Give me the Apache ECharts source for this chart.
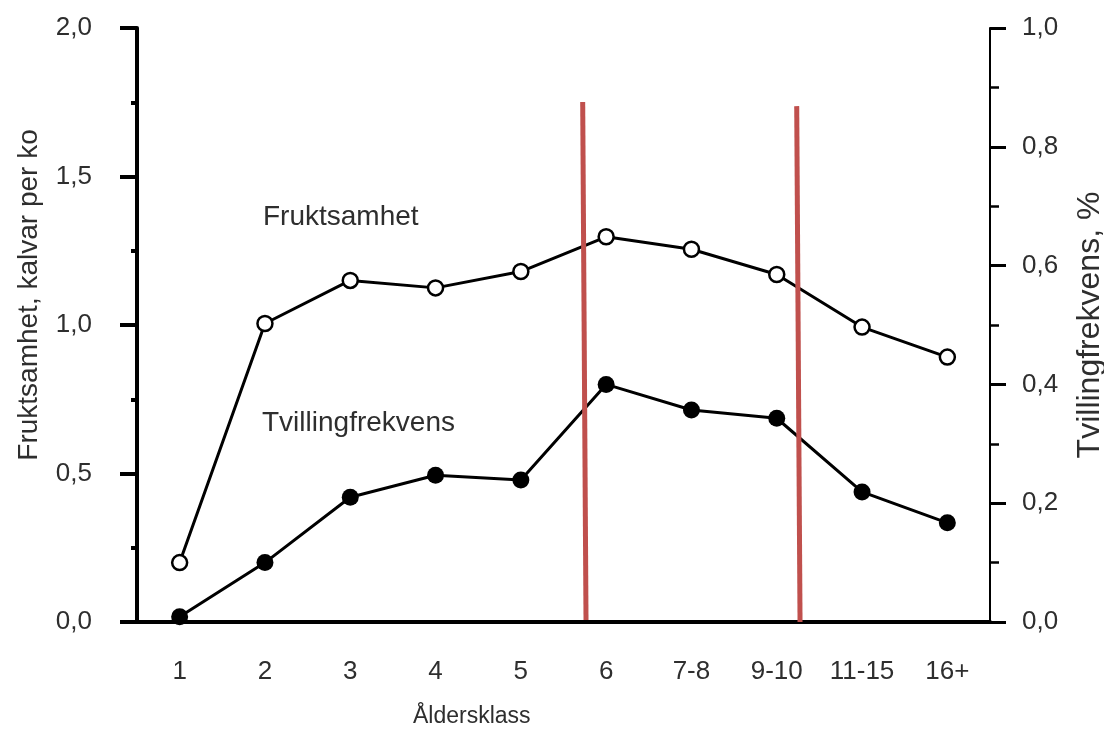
<!DOCTYPE html>
<html>
<head>
<meta charset="utf-8">
<script src="https://cdn.jsdelivr.net/npm/echarts@6/dist/echarts.min.js"></script>
<style>html,body{margin:0;padding:0;background:#fff;}#c{width:1104px;height:733px;}</style>
</head>
<body>
<div id="c"></div>
<script>
var categories = ['1','2','3','4','5','6','7-8','9-10','11-15','16+'];
var fruktsamhet = [0.20, 1.005, 1.15, 1.125, 1.18, 1.297, 1.255, 1.17, 0.993, 0.892];
var tvilling = [0.009, 0.10, 0.21, 0.247, 0.239, 0.40, 0.357, 0.343, 0.219, 0.167];
var leftTicks = ['0,0','0,5','1,0','1,5','2,0'];
var rightTicks = ['0,0','0,2','0,4','0,6','0,8','1,0'];
// red marker lines, in category-position units (0..10) and left-axis units
var redLine1X = [5.225, 5.264];
var redLine1Y = [1.751, 0.007];
var redLine2X = [7.734, 7.773];
var redLine2Y = [1.737, 0.0];

var FONT = 'Liberation Sans, Arial, sans-serif';
var TXT = '#2e2e2e';
var chart = echarts.init(document.getElementById('c'));

chart.setOption({
  animation: false,
  backgroundColor: '#fff',
  grid: { left: 137, right: 114, top: 28, bottom: 111, containLabel: false, outerBoundsMode: 'none' },
  xAxis: [{
    type: 'category',
    data: categories,
    boundaryGap: true,
    axisLine: { lineStyle: { color: '#000', width: 4 } },
    axisTick: { alignWithLabel: true, length: 18, lineStyle: { color: '#000', width: 4 } },
    axisLabel: { color: TXT, fontSize: 26, fontFamily: FONT, margin: 37, interval: 0 },
    splitLine: { show: false }
  }, {
    type: 'value', min: 0, max: 10, show: false
  }],
  yAxis: [{
    type: 'value', min: 0, max: 2, interval: 0.5, position: 'left',
    name: 'Fruktsamhet, kalvar per ko',
    nameLocation: 'middle', nameGap: 94, nameRotate: 90,
    nameTextStyle: { color: TXT, fontSize: 28, fontFamily: FONT, padding: [0, 0, 0, 60] },
    axisLine: { show: true, lineStyle: { color: '#000', width: 4 } },
    axisTick: { show: true, length: 17, lineStyle: { color: '#000', width: 4 } },
    minorTick: { show: true, splitNumber: 2, length: 6, lineStyle: { color: '#000', width: 4 } },
    axisLabel: { color: TXT, fontSize: 26, fontFamily: FONT, margin: 45, formatter: function(v){ return leftTicks[Math.round(v/0.5)]; } },
    splitLine: { show: false }
  }, {
    type: 'value', min: 0, max: 1, interval: 0.2, position: 'right',
    name: 'Tvillingfrekvens, %',
    nameLocation: 'middle', nameGap: 84, nameRotate: 90,
    nameTextStyle: { color: TXT, fontSize: 32, fontFamily: FONT },
    axisLine: { show: true, lineStyle: { color: '#000', width: 2 } },
    axisTick: { show: true, length: 16, lineStyle: { color: '#000', width: 3 } },
    minorTick: { show: true, splitNumber: 2, length: 9, lineStyle: { color: '#000', width: 2.5 } },
    axisLabel: { color: TXT, fontSize: 26, fontFamily: FONT, margin: 32, formatter: function(v){ return rightTicks[Math.round(v/0.2)]; } },
    splitLine: { show: false }
  }],
  series: [{
    name: 'Fruktsamhet', type: 'line', xAxisIndex: 0, yAxisIndex: 0,
    data: fruktsamhet,
    symbol: 'circle', symbolSize: 15,
    lineStyle: { color: '#000', width: 3 },
    itemStyle: { color: '#fff', borderColor: '#000', borderWidth: 2.5 },
    z: 5
  }, {
    name: 'Tvillingfrekvens', type: 'line', xAxisIndex: 0, yAxisIndex: 1,
    data: tvilling,
    symbol: 'circle', symbolSize: 17,
    lineStyle: { color: '#000', width: 3 },
    itemStyle: { color: '#000', borderColor: '#000', borderWidth: 0 },
    z: 5
  }, {
    type: 'line', xAxisIndex: 1, yAxisIndex: 0,
    data: redLine1X.map(function(x, i){ return [x, redLine1Y[i]]; }),
    symbol: 'none', lineStyle: { color: '#c0504d', width: 5 }, z: 6, silent: true
  }, {
    type: 'line', xAxisIndex: 1, yAxisIndex: 0,
    data: redLine2X.map(function(x, i){ return [x, redLine2Y[i]]; }),
    symbol: 'none', lineStyle: { color: '#c0504d', width: 5 }, z: 6, silent: true
  }],
  graphic: [
    { type: 'text', left: 263, top: 203, style: { text: 'Fruktsamhet', fill: TXT, fontSize: 28, fontFamily: FONT } },
    { type: 'text', left: 262, top: 409, style: { text: 'Tvillingfrekvens', fill: TXT, fontSize: 28, fontFamily: FONT } },
    { type: 'text', left: 413, top: 705, style: { text: 'Åldersklass', fill: TXT, fontSize: 23, fontFamily: FONT } }
  ]
});
</script>
</body>
</html>
